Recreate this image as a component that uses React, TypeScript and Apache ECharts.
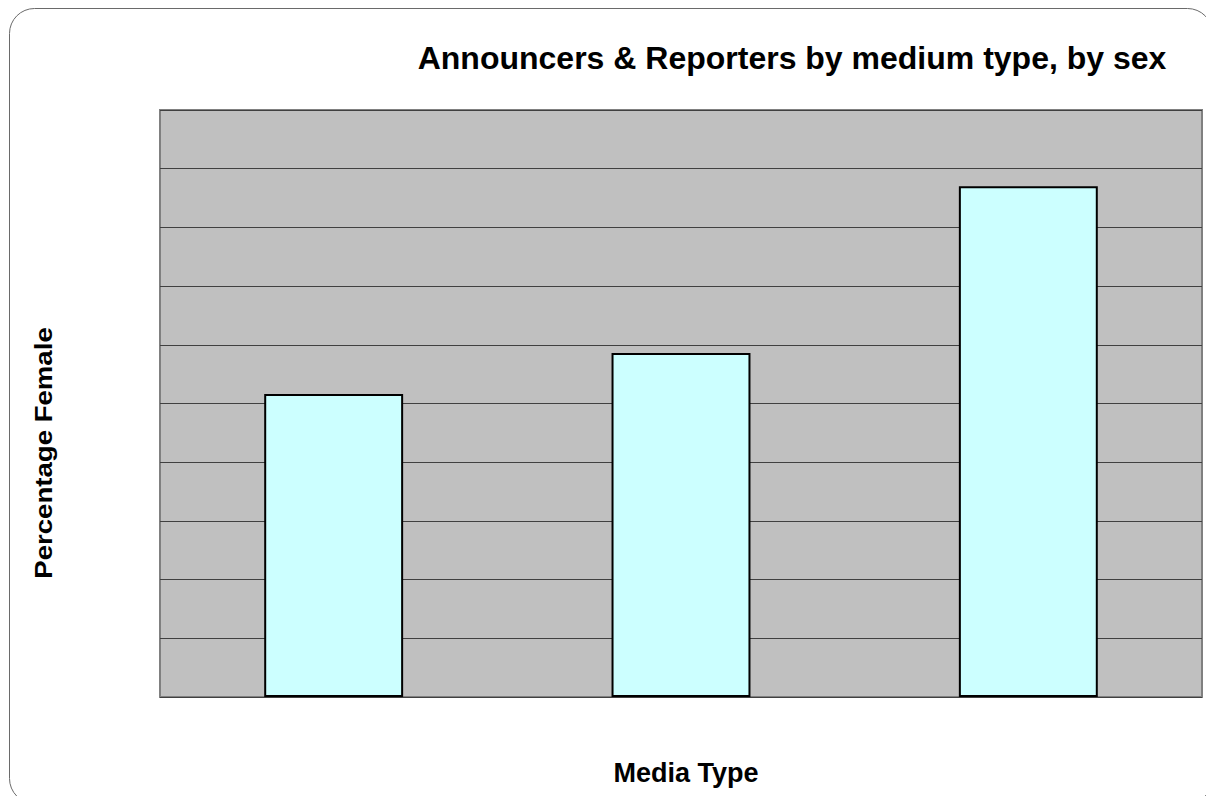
import React, { useEffect, useRef } from "react";
import * as echarts from "echarts";

const categories = ["Radio", "Television", "Newspaper"];
const percentFemale = [51.6, 58.6, 87.0];
const titleText = "Announcers & Reporters by medium type, by sex";
const yName = "Percentage Female";
const xName = "Media Type";

export default function App() {
  const ref = useRef<HTMLDivElement>(null);
  useEffect(() => {
    const chart = echarts.init(ref.current!, null, { renderer: "svg" });
    const font = "Liberation Sans, Arial, sans-serif";
    chart.setOption({
      animation: false,
      backgroundColor: "#ffffff",
      title: {
        text: titleText,
        left: 787,
        top: 37,
        textAlign: "center",
        textStyle: { fontFamily: font, fontWeight: "bold", fontSize: 32, color: "#000" },
      },
      graphic: [
        {
          type: "rect",
          shape: { x: 9.5, y: 8.5, width: 1203, height: 795, r: 25 },
          style: { fill: "none", stroke: "#6a6a6a", lineWidth: 1 },
          silent: true,
          z: 0,
        },
        {
          type: "text",
          x: 44,
          y: 453,
          rotation: Math.PI / 2,
          scaleX: 1.2,
          style: {
            text: yName,
            fontFamily: font,
            fontWeight: "bold",
            fontSize: 23,
            fill: "#000",
            textAlign: "center",
            textVerticalAlign: "middle",
          },
          silent: true,
        },
      ],
      grid: {
        left: 160,
        top: 110,
        width: 1042,
        height: 587,
        show: true,
        backgroundColor: "#c0c0c0",
        borderColor: "#808080",
        borderWidth: 2,
      },
      xAxis: {
        type: "category",
        data: categories,
        name: xName,
        nameLocation: "middle",
        nameGap: 62,
        nameTextStyle: {
          fontFamily: font,
          fontWeight: "bold",
          fontSize: 27,
          color: "#000",
          padding: [0, 0, 0, 10],
        },
        axisLabel: { show: false },
        axisTick: { show: false },
        axisLine: { show: false },
      },
      yAxis: {
        type: "value",
        min: 0,
        max: 100,
        interval: 10,
        axisLabel: { show: false },
        axisTick: { show: false },
        axisLine: { show: false },
        splitLine: { show: true, lineStyle: { color: "#404040", width: 1 } },
      },
      series: [
        {
          type: "bar",
          data: percentFemale,
          barWidth: "40%",
          itemStyle: { color: "#ccffff", borderColor: "#000000", borderWidth: 2 },
        },
      ],
    });
    return () => chart.dispose();
  }, []);
  return (
    <div
      ref={ref}
      style={{ position: "fixed", left: 0, top: 0, width: 1206, height: 796 }}
    />
  );
}
